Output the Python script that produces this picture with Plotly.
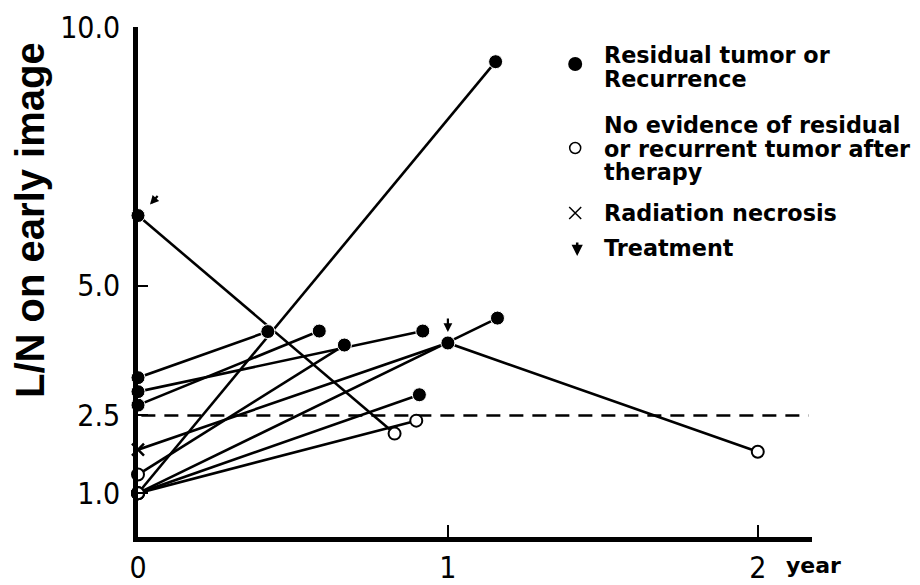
import plotly.graph_objects as go

# ---------------- data ----------------
patient_years = [
    [0, 0.419], [0, 0.585], [0, 0.919], [0, 0.666], [0, 1.0, 2.0],
    [0, 1.16], [0, 0.908], [0, 0.898], [0, 0.828], [0, 1.154],
]
patient_ln = [
    [3.23, 4.12], [2.70, 4.13], [2.96, 4.13], [1.36, 3.86], [1.84, 3.90, 1.80],
    [1.00, 4.38], [1.00, 2.90], [1.00, 2.40], [6.36, 2.15], [1.00, 9.33],
]
# R = residual tumor / recurrence, N = no evidence after therapy, X = radiation necrosis
patient_status = [
    ["R", "R"], ["R", "R"], ["R", "R"], ["N", "R"], ["X", "R", "N"],
    ["N", "R"], ["N", "R"], ["N", "N"], ["R", "N"], ["N", "R"],
]
treatment_years = [0, 1.0]
treatment_ln = [6.36, 3.90]
threshold_ln = 2.5

x_tickvals = [0, 1, 2]
x_ticktext = ["0", "1", "2"]
y_tickvals = [1.0, 2.5, 5.0, 10.0]
y_ticktext = ["1.0", "2.5", "5.0", "10.0"]

legend_lines = [
    ["Residual tumor or", "Recurrence"],
    ["No evidence of residual", "or recurrent tumor after", "therapy"],
    ["Radiation necrosis"],
    ["Treatment"],
]
y_title = "L/N on early image"
x_unit = "year"

# ---------------- layout constants ----------------
OFF = 8                      # default page margin of the html body
W, H = 920 - OFF, 585 - OFF
ML, MT = 130, 19
MR, MB = 108.3, 48
PW, PH = W - ML - MR, H - MT - MB


def px(xp):                  # screen x -> paper
    return (xp - OFF - ML) / PW


def py(yp):                  # screen y -> paper
    return (H - MB - (yp - OFF)) / PH


TICK_FONT = dict(family="Liberation Sans Narrow, DejaVu Sans Condensed, Roboto Condensed, Liberation Sans, sans-serif",
                 size=30, color="black")
LEG_SIZE = 22.3
LEG_LINE_GAP = 23.5          # px between legend text lines
LEG_FONT = dict(family="DejaVu Sans", size=LEG_LINE_GAP / 1.3, color="black", weight="bold")

fig = go.Figure()

# patient lines
for t, v in zip(patient_years, patient_ln):
    fig.add_trace(go.Scatter(x=t, y=v, mode="lines", line=dict(color="black", width=2.6),
                             showlegend=False, hoverinfo="skip", cliponaxis=False))


def pts(code):
    xs, ys = [], []
    for t, v, s in zip(patient_years, patient_ln, patient_status):
        for a, b, c in zip(t, v, s):
            if c == code:
                xs.append(a)
                ys.append(b)
    return xs, ys


xs, ys = pts("R")
fig.add_trace(go.Scatter(x=xs, y=ys, mode="markers", cliponaxis=False, showlegend=False,
                         marker=dict(symbol="circle", size=14, color="black",
                                     line=dict(color="white", width=1))))
xs, ys = pts("N")
fig.add_trace(go.Scatter(x=xs, y=ys, mode="markers", cliponaxis=False, showlegend=False,
                         marker=dict(symbol="circle", size=12, color="white",
                                     line=dict(color="black", width=2))))
xs, ys = pts("X")
fig.add_trace(go.Scatter(x=xs, y=ys, mode="markers", cliponaxis=False, showlegend=False,
                         marker=dict(symbol="x-thin", size=12, color="black",
                                     line=dict(color="black", width=2.5))))

# threshold dashed line
fig.add_shape(type="line", xref="paper", x0=0.005, x1=0.995, yref="y", y0=threshold_ln, y1=threshold_ln,
              line=dict(color="black", width=2.5, dash="14px,9px"), layer="below")

# treatment arrows
arrow_style = [dict(xshift=12, yshift=11, ax=9, ay=-10), dict(xshift=0, yshift=11, ax=0, ay=-15)]
for t, v, st in zip(treatment_years, treatment_ln, arrow_style):
    fig.add_annotation(x=t, y=v, xref="x", yref="y", text="", showarrow=True, arrowhead=2,
                       arrowsize=0.8, arrowwidth=2.2, arrowcolor="black", **st)

# legend symbols
fig.add_shape(type="circle", xref="paper", yref="paper", xsizemode="pixel", ysizemode="pixel",
              xanchor=px(575), yanchor=py(64), x0=-7, x1=7, y0=-7, y1=7,
              fillcolor="black", line=dict(color="black", width=0))
fig.add_shape(type="circle", xref="paper", yref="paper", xsizemode="pixel", ysizemode="pixel",
              xanchor=px(575), yanchor=py(148), x0=-5.5, x1=5.5, y0=-5.5, y1=5.5,
              fillcolor="white", line=dict(color="black", width=1.5))
fig.add_shape(type="path", xref="paper", yref="paper", xsizemode="pixel", ysizemode="pixel",
              xanchor=px(575), yanchor=py(213), path="M -6 -6 L 6 6 M -6 6 L 6 -6",
              line=dict(color="black", width=1.5))
fig.add_annotation(x=px(577), y=py(256), xref="paper", yref="paper", text="", showarrow=True,
                   arrowhead=2, arrowsize=0.9, arrowwidth=2.5, arrowcolor="black", ax=0, ay=-15)

# legend text: one annotation per entry, line gap set by the base font size
leg_center_y = [67, 148, 213, 248]
for lines, yy in zip(legend_lines, leg_center_y):
    txt = "<br>".join(f"<span style='font-size:{LEG_SIZE}px'>{s}</span>" for s in lines)
    fig.add_annotation(x=px(603), y=py(yy), xref="paper", yref="paper", text=txt, showarrow=False,
                       xanchor="left", yanchor="middle", align="left", font=LEG_FONT, borderpad=0)

# y title
fig.add_annotation(x=px(30), y=py(220), xref="paper", yref="paper", text=y_title, showarrow=False,
                   textangle=-90, xanchor="center", yanchor="middle",
                   font=dict(family="Liberation Sans", size=40, color="black", weight="bold"))
# x unit
fig.add_annotation(x=2, y=py(565), xref="x", yref="paper", text=x_unit, showarrow=False,
                   xanchor="left", yanchor="middle", xshift=26,
                   font=dict(family="DejaVu Sans", size=22, color="black", weight="bold"))

fig.update_xaxes(range=[0, 2.175], tickvals=x_tickvals, ticktext=x_ticktext, ticks="inside", ticklen=12,
                 tickwidth=2, tickcolor="black", showline=True, linecolor="black", linewidth=4.5,
                 showgrid=False, zeroline=False, tickfont=TICK_FONT, ticklabelstandoff=0)
fig.update_yaxes(range=[0.154, 10], tickvals=y_tickvals, ticktext=y_ticktext, ticks="inside", ticklen=10,
                 tickwidth=2, tickcolor="black", showline=True, linecolor="black", linewidth=4.5,
                 showgrid=False, zeroline=False, tickfont=TICK_FONT, ticklabelstandoff=7)
fig.update_layout(width=W, height=H, margin=dict(l=ML, r=MR, t=MT, b=MB, autoexpand=False),
                  plot_bgcolor="white", paper_bgcolor="white", showlegend=False)

fig.write_html("out.html")
